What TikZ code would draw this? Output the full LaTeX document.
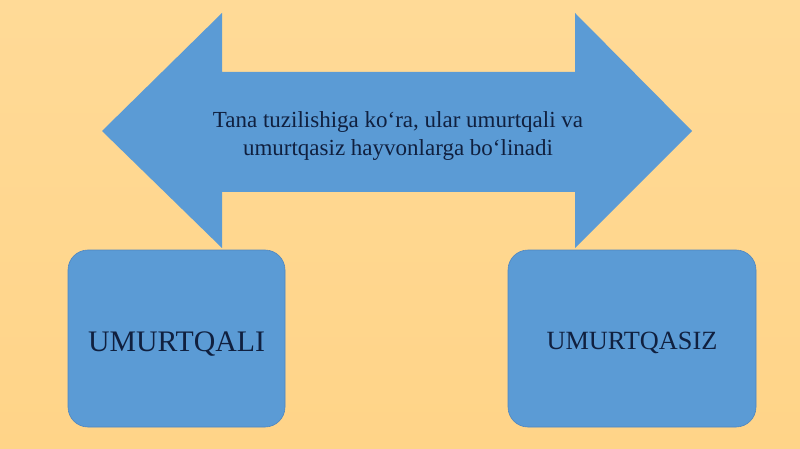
\documentclass[tikz,border=0pt]{standalone}
\usepackage{fontspec}
\setmainfont{Liberation Serif}
\usepackage{xcolor}
\usetikzlibrary{positioning}
\definecolor{bgtop}{HTML}{FFDA97}
\definecolor{bgbot}{HTML}{FFD488}
\definecolor{shapeblue}{HTML}{5B9BD5}
\definecolor{edgeblue}{HTML}{4F86C0}
\definecolor{inkblue}{HTML}{10203F}

\begin{document}
\begin{tikzpicture}[x=1pt, y=-1pt, group/.style={
            % The shape:
            rectangle, rounded corners=20pt,
            % The size:
            minimum width=217pt, minimum height=177pt,
            % The border
            draw=edgeblue, line width=.6pt,
            % The filling
            fill=shapeblue, text=inkblue, text depth=0pt}]
        \useasboundingbox (0,0) rectangle (800,449);
        \shade [top color = bgtop, bottom color = bgbot] (0,0) rectangle (800,449);

        % double arrow
        \fill [shapeblue] (102,131) -- (222,13) -- (222,72) -- (575,72) -- (575,13)
          -- (692,131) -- (575,248) -- (575,192) -- (222,192) -- (222,248) -- cycle;
        \node [text = inkblue, align = center, font = \fontsize{23}{28}\selectfont]
          (title) at (398,136) {Tana tuzilishiga ko‘ra, ular umurtqali va\\umurtqasiz hayvonlarga bo‘linadi};

        \node [group, minimum width = 217pt, text height = 25pt, font = \fontsize{29.8}{34}\selectfont]
          (vert) at (176.5,338.5) {UMURTQALI};
        \node [group, minimum width = 248pt, text height = 21pt, font = \fontsize{26.3}{30}\selectfont]
          (invert) at (632,338.5) {UMURTQASIZ};

        \end{tikzpicture}
\end{document}
